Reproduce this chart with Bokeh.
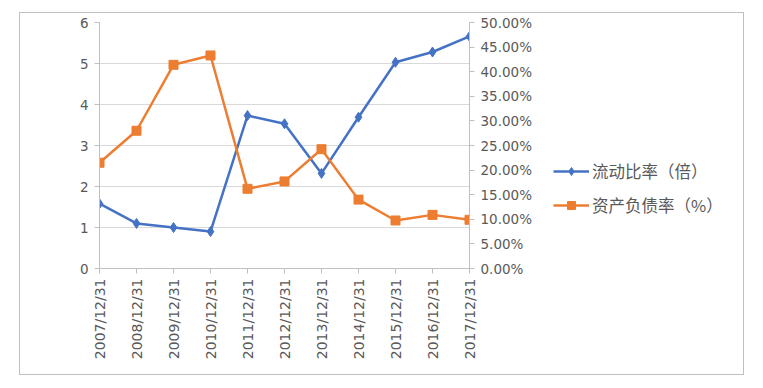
import math
from bokeh.plotting import figure
from bokeh.layouts import row
from bokeh.models import (Range1d, LinearAxis, FixedTicker, NumeralTickFormatter,
                          Legend, LegendItem, ColumnDataSource)
from bokeh.embed import file_html
from bokeh.resources import INLINE

dates = ["2007/12/31", "2008/12/31", "2009/12/31", "2010/12/31", "2011/12/31",
         "2012/12/31", "2013/12/31", "2014/12/31", "2015/12/31", "2016/12/31",
         "2017/12/31"]
current_ratio = [1.58, 1.10, 1.00, 0.90, 3.73, 3.53, 2.32, 3.69, 5.03, 5.28, 5.66]
debt_ratio = [0.215, 0.280, 0.414, 0.433, 0.162, 0.177, 0.2425, 0.140, 0.0976, 0.109, 0.099]
series_names = ["流动比率（倍）", "资产负债率（%）"]
left_ticks = [0, 1, 2, 3, 4, 5, 6]
right_ticks = [0, 0.05, 0.10, 0.15, 0.20, 0.25, 0.30, 0.35, 0.40, 0.45, 0.50]

BLUE = "#4472C4"
ORANGE = "#ED7D31"
TXT = "#595959"
NUMFONT = "DejaVu Sans"

xs = list(range(len(dates)))
src = ColumnDataSource(dict(x=xs, cr=current_ratio, dr=debt_ratio))

W1, W2, H = 529, 194, 361

p = figure(width=W1, height=H, output_backend="svg", toolbar_location=None,
           x_range=Range1d(0, len(dates) - 1), y_range=Range1d(0, 6),
           min_border_left=79, min_border_top=9, min_border_right=80, min_border_bottom=106)
p.outline_line_color = None
p.background_fill_color = "white"
p.border_fill_color = "white"

p.extra_y_ranges = {"r": Range1d(0, 0.5)}

# Grid
p.xgrid.grid_line_color = None
p.ygrid.grid_line_color = "#D9D9D9"
p.ygrid.grid_line_width = 1

# Left axis
ya = p.yaxis[0]
ya.ticker = FixedTicker(ticks=left_ticks)
ya.axis_line_color = "#BFBFBF"
ya.major_tick_line_color = "#BFBFBF"
ya.major_tick_out = 5
ya.major_tick_in = 0
ya.minor_tick_line_color = None
ya.major_label_text_color = TXT
ya.major_label_text_font = NUMFONT
ya.major_label_text_font_size = "13.5px"
ya.major_label_standoff = 6

# Right axis
ra = LinearAxis(y_range_name="r", ticker=FixedTicker(ticks=right_ticks),
                formatter=NumeralTickFormatter(format="0.00%"))
ra.axis_line_color = "#BFBFBF"
ra.major_tick_line_color = "#BFBFBF"
ra.major_tick_out = 5
ra.major_tick_in = 0
ra.minor_tick_line_color = None
ra.major_label_text_color = TXT
ra.major_label_text_font = NUMFONT
ra.major_label_text_font_size = "13.5px"
ra.major_label_standoff = 6
p.add_layout(ra, "right")

# Bottom axis
xa = p.xaxis[0]
xa.ticker = FixedTicker(ticks=xs)
xa.major_label_overrides = {i: d for i, d in enumerate(dates)}
xa.major_label_orientation = math.pi / 2
xa.axis_line_color = "#BFBFBF"
xa.major_tick_line_color = "#BFBFBF"
xa.major_tick_out = 5
xa.major_tick_in = 0
xa.minor_tick_line_color = None
xa.major_label_text_color = TXT
xa.major_label_text_font = NUMFONT
xa.major_label_text_font_size = "14px"
xa.major_label_standoff = 5

# Series
p.line("x", "cr", source=src, line_color=BLUE, line_width=2.5)
p.scatter("x", "cr", source=src, marker="diamond", size=10,
          fill_color=BLUE, line_color=BLUE)
p.line("x", "dr", source=src, y_range_name="r", line_color=ORANGE, line_width=2.5)
p.scatter("x", "dr", source=src, y_range_name="r", marker="square", size=9,
          fill_color=ORANGE, line_color=ORANGE)

# Legend panel (separate figure so the legend is not clipped)
q = figure(width=W2, height=H, output_backend="svg", toolbar_location=None,
           x_range=Range1d(0, W2), y_range=Range1d(0, H),
           min_border=0, x_axis_type=None, y_axis_type=None)
q.outline_line_color = None
q.grid.grid_line_color = None
q.background_fill_color = "white"
q.border_fill_color = "white"
offscreen = ColumnDataSource(dict(x=[-1000], y=[-1000]))
r1 = q.line("x", "y", source=offscreen, line_color=BLUE, line_width=2.5)
s1 = q.scatter("x", "y", source=offscreen, marker="diamond", size=9,
               fill_color=BLUE, line_color=BLUE)
r2 = q.line("x", "y", source=offscreen, line_color=ORANGE, line_width=2.5)
s2 = q.scatter("x", "y", source=offscreen, marker="square", size=10,
               fill_color=ORANGE, line_color=ORANGE)

legend = Legend(items=[LegendItem(label=series_names[0], renderers=[r1, s1]),
                       LegendItem(label=series_names[1], renderers=[r2, s2])],
                location=(4, 51), orientation="vertical",
                border_line_color=None, background_fill_alpha=0,
                label_text_font="Noto Sans CJK SC", label_text_font_size="16.5px",
                label_text_color=TXT, glyph_width=36, glyph_height=20,
                spacing=10, padding=0, margin=0, label_standoff=3)
q.add_layout(legend, "center")

layout = row(p, q, spacing=0)
layout.styles = {"border": "1px solid #BFBFBF", "margin-left": "19px", "margin-top": "12px"}

open("out.html", "w").write(file_html(layout, INLINE))
